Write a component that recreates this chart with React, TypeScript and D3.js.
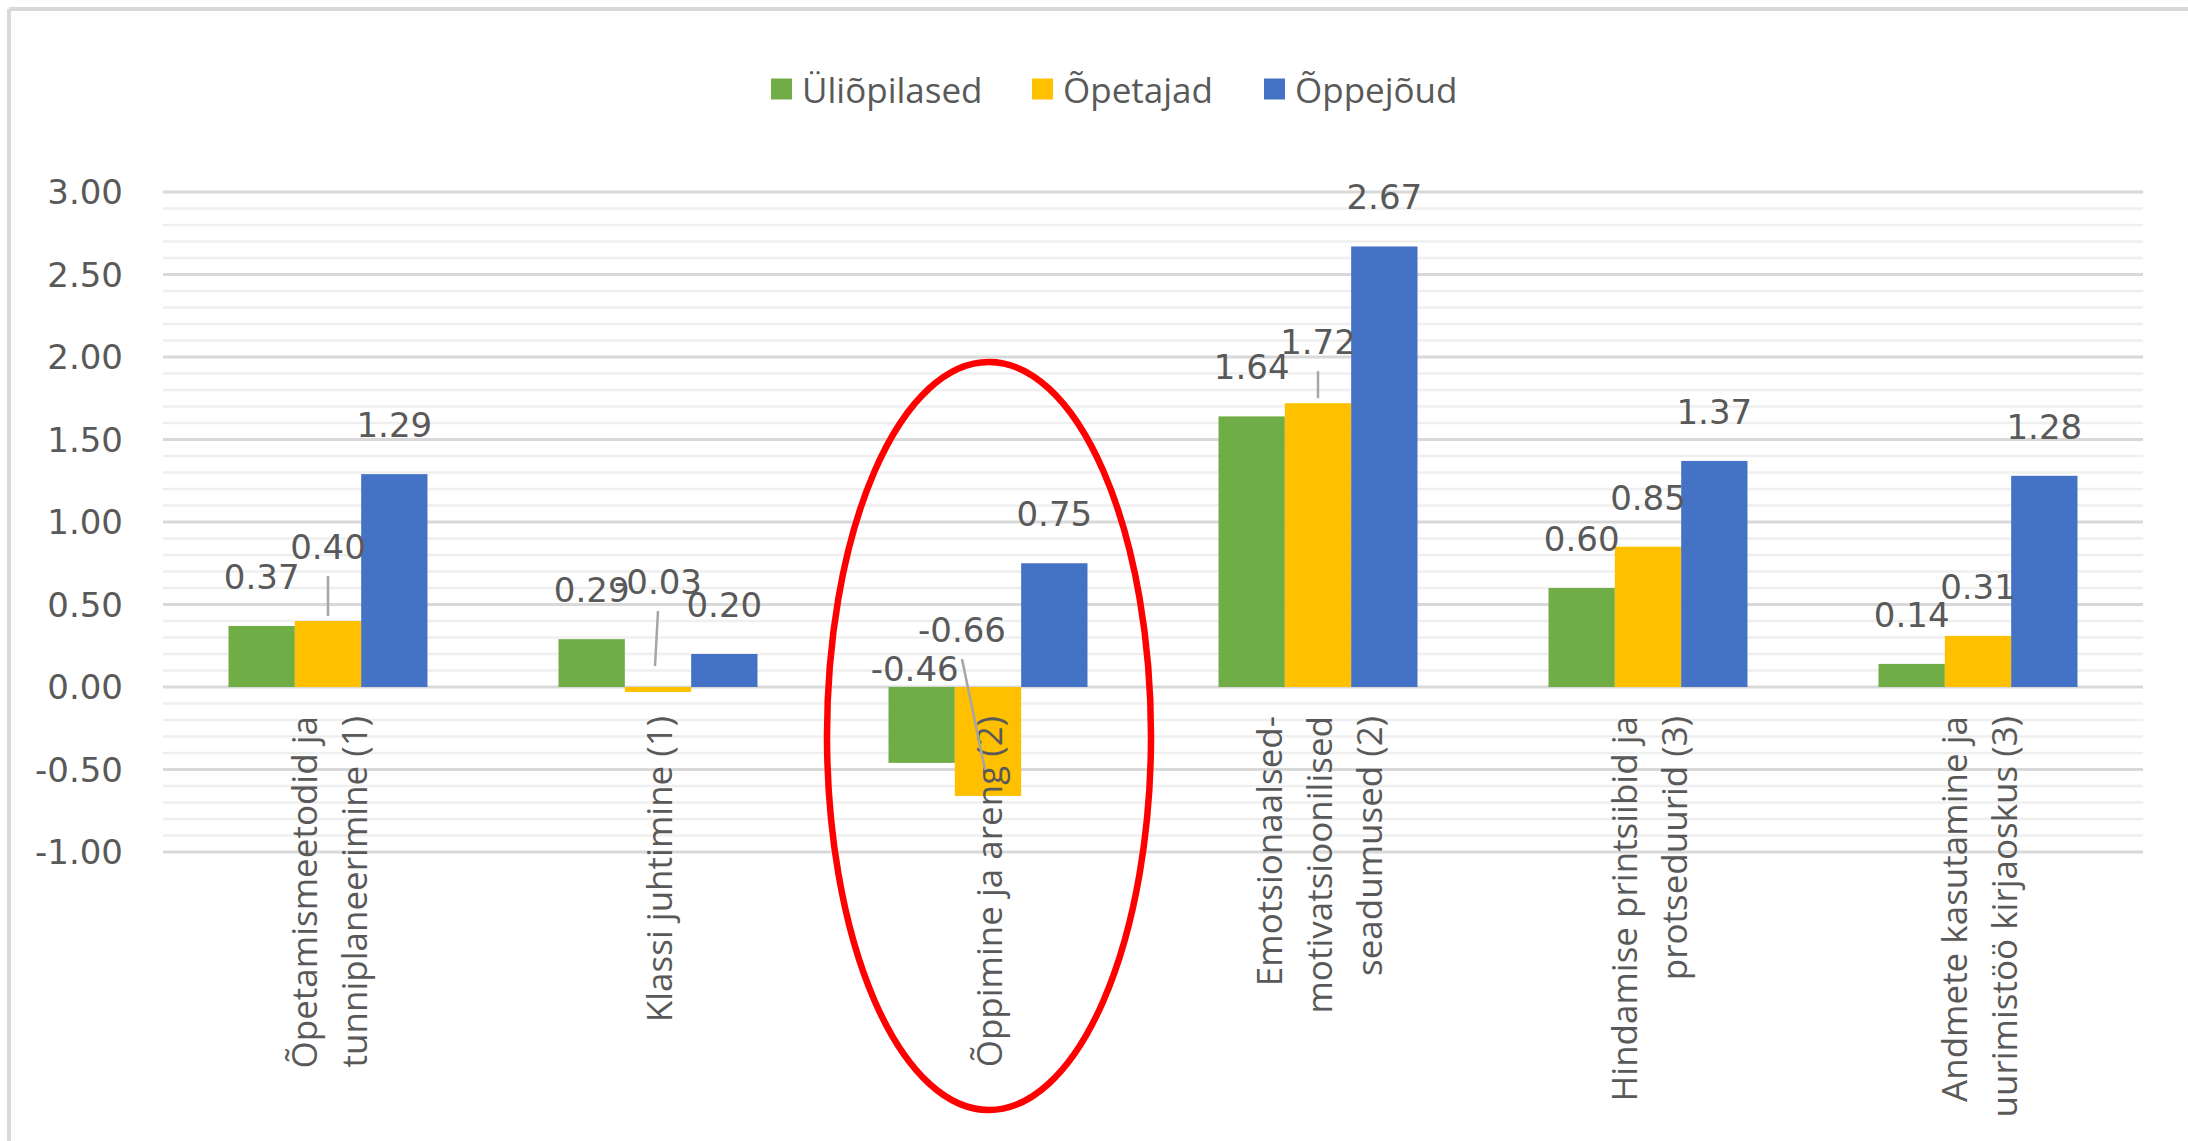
import React, { useEffect } from 'react';
import * as d3 from 'd3';

// kategooriad (reamurdudega nagu originaalis)
const categories: string[][] = [
  ['Õpetamismeetodid ja', 'tunniplaneerimine (1)'],
  ['Klassi juhtimine (1)'],
  ['Õppimine ja areng (2)'],
  ['Emotsionaalsed-', 'motivatsioonilised', 'seadumused (2)'],
  ['Hindamise printsiibid ja', 'protseduurid (3)'],
  ['Andmete kasutamine ja', 'uurimistöö kirjaoskus (3)'],
];

const seriesNames = ['Üliõpilased', 'Õpetajad', 'Õppejõud'];
const studentValues = [0.37, 0.29, -0.46, 1.64, 0.6, 0.14];
const teacherValues = [0.4, -0.03, -0.66, 1.72, 0.85, 0.31];
const lecturerValues = [1.29, 0.2, 0.75, 2.67, 1.37, 1.28];
const yTickValues = [-1, -0.5, 0, 0.5, 1, 1.5, 2, 2.5, 3];

const seriesValues = [studentValues, teacherValues, lecturerValues];
const seriesColors = ['#70AD47', '#FFC000', '#4472C4'];

// käsitsi nihutatud sildid (px) + juhtjoon
const labelNudges: Record<string, { dx: number; dy: number; leader?: boolean }> = {
  '1-0': { dx: 0, dy: -25, leader: true },
  '1-1': { dx: 0, dy: -56, leader: true },
  '0-2': { dx: -7, dy: 31 },
  '1-2': { dx: -26, dy: -8, leader: true },
  '1-3': { dx: 0, dy: -12, leader: true },
};

const W = 2188;
const H = 1141;
const margin = { top: 192, right: 45, bottom: 289, left: 163 };
const textColor = '#595959';
const numFont = '"DejaVu Sans", sans-serif';
const txtFont = '"Open Sans", sans-serif';
const fmt = (v: number) => v.toFixed(2); // sidekriips, mitte U+2212

export default function App() {
  useEffect(() => {
    document.body.style.margin = '0';
  }, []);

  const innerW = W - margin.left - margin.right;
  const x0 = d3.scaleBand<number>()
    .domain(d3.range(categories.length))
    .range([margin.left, margin.left + innerW])
    .paddingInner(0.397)
    .paddingOuter(0.1985);
  const x1 = d3.scaleBand<number>()
    .domain(d3.range(seriesNames.length))
    .range([0, x0.bandwidth()]);
  const y = d3.scaleLinear().domain([-1, 3]).range([H - margin.bottom, margin.top]);

  const gridValues = y.ticks(40);
  const isMajor = (v: number) => Math.abs(v * 2 - Math.round(v * 2)) < 1e-6;

  const legendX = [771, 1032, 1264];

  return (
    <svg width={W} height={H} style={{ display: 'block', background: '#fff' }}>
      {/* raam */}
      <line x1={9} x2={W} y1={9} y2={9} stroke="#d9d9d9" strokeWidth={4} />
      <line x1={9} x2={9} y1={9} y2={H} stroke="#d9d9d9" strokeWidth={4} />

      {/* legend */}
      {seriesNames.map((name, i) => (
        <g key={name} transform={`translate(${legendX[i]},89)`}>
          <rect x={0} y={-10.5} width={21} height={21} fill={seriesColors[i]} />
          <text x={31} y={0} dominantBaseline="central" fontFamily={txtFont} fontSize={35} fill={textColor}>
            {name}
          </text>
        </g>
      ))}

      {/* ruudustik */}
      {gridValues.filter(v => !isMajor(v)).map(v => (
        <line key={`m${v}`} x1={margin.left} x2={margin.left + innerW} y1={y(v)} y2={y(v)}
          stroke="#efefef" strokeWidth={2.5} />
      ))}
      {gridValues.filter(isMajor).map(v => (
        <line key={`M${v}`} x1={margin.left} x2={margin.left + innerW} y1={y(v)} y2={y(v)}
          stroke="#d9d9d9" strokeWidth={3} />
      ))}

      {/* y telje sildid */}
      {yTickValues.map(v => (
        <text key={`t${v}`} x={123} y={y(v)} textAnchor="end" dominantBaseline="central"
          fontFamily={numFont} fontSize={34} fill={textColor}>
          {fmt(v)}
        </text>
      ))}

      {/* tulbad */}
      {categories.map((_, c) => (
        <g key={`c${c}`} transform={`translate(${x0(c)},0)`}>
          {seriesValues.map((vals, s) => {
            const v = vals[c];
            return (
              <rect key={s} x={x1(s)} width={x1.bandwidth()}
                y={Math.min(y(v), y(0))} height={Math.abs(y(v) - y(0))}
                fill={seriesColors[s]} />
            );
          })}
        </g>
      ))}

      {/* kategooria sildid */}
      {categories.map((lines, c) => {
        const cx = (x0(c) ?? 0) + x0.bandwidth() / 2;
        return (
          <g key={`l${c}`} transform={`translate(${cx},716) rotate(-90)`}>
            {lines.map((ln, i) => (
              <text key={i} x={0} y={(i - (lines.length - 1) / 2) * 50} textAnchor="end"
                dominantBaseline="central" fontFamily={txtFont} fontSize={35} fill={textColor}>
                {ln}
              </text>
            ))}
          </g>
        );
      })}

      {/* andmesildid */}
      {categories.map((_, c) =>
        seriesValues.map((vals, s) => {
          const v = vals[c];
          const bx = (x0(c) ?? 0) + (x1(s) ?? 0) + x1.bandwidth() / 2;
          const nudge = labelNudges[`${s}-${c}`] || { dx: 0, dy: 0 };
          const lx = bx + nudge.dx;
          const ly = y(Math.max(v, 0)) - 49 + nudge.dy;
          const endY = v >= 0 ? y(v) - 5 : y(v) - 26;
          return (
            <g key={`d${s}-${c}`}>
              {nudge.leader && (
                <line x1={lx} y1={ly + 29} x2={v >= 0 ? bx : bx - 3} y2={endY}
                  stroke="#a6a6a6" strokeWidth={2.5} />
              )}
              <text x={lx} y={ly} textAnchor="middle" dominantBaseline="central"
                fontFamily={numFont} fontSize={34} fill={textColor}>
                {fmt(v)}
              </text>
            </g>
          );
        })
      )}

      {/* punane ovaal */}
      <ellipse cx={989} cy={736} rx={162} ry={374} fill="none" stroke="#ff0000" strokeWidth={6.5} />
    </svg>
  );
}
